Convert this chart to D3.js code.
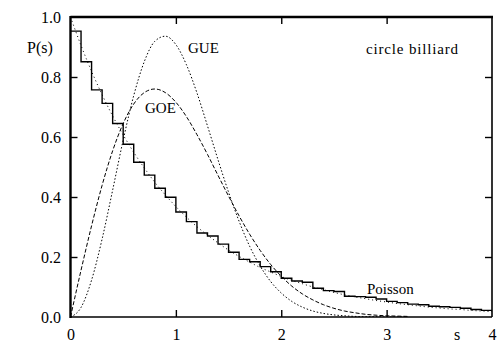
<!DOCTYPE html>
<html>
<head>
<meta charset="utf-8">
<script src="https://cdn.jsdelivr.net/npm/d3@7"></script>
<style>
  html, body { margin: 0; padding: 0; background: #fff; }
  svg { display: block; }
</style>
</head>
<body>
<svg id="chart" width="504" height="360"></svg>
<script>
// ---- data ----
const xTicks = [0, 1, 2, 3, 4];
const yTicks = [0, 0.2, 0.4, 0.6, 0.8, 1.0];
const yTickLabels = ["0.0", "0.2", "0.4", "0.6", "0.8", "1.0"];
const binWidth = 0.1;
// histogram heights, bins of width 0.1 from s = 0 to 4
const histValues = [0.953, 0.851, 0.757, 0.712, 0.645, 0.576, 0.516, 0.473, 0.429, 0.399,
                    0.350, 0.318, 0.280, 0.270, 0.243, 0.216, 0.192, 0.184, 0.168, 0.151,
                    0.129, 0.120, 0.116, 0.096, 0.088, 0.085, 0.069, 0.068, 0.066, 0.060,
                    0.052, 0.048, 0.043, 0.041, 0.036, 0.034, 0.032, 0.029, 0.025, 0.022];
// curve samples at s = 0, 0.1, 0.2, ...
const curveS = [0, 0.1, 0.2, 0.3, 0.4, 0.5, 0.6, 0.7, 0.8, 0.9, 1.0, 1.1, 1.2, 1.3, 1.4, 1.5, 1.6, 1.7, 1.8, 1.9,
                2.0, 2.1, 2.2, 2.3, 2.4, 2.5, 2.6, 2.7, 2.8, 2.9, 3.0, 3.1, 3.2, 3.3, 3.4, 3.5, 3.6, 3.7, 3.8, 3.9, 4.0];
const goeValues = [0, 0.156, 0.304, 0.439, 0.554, 0.645, 0.710, 0.748, 0.760, 0.748, 0.716, 0.668, 0.608, 0.542,
                   0.472, 0.403, 0.337, 0.276, 0.222, 0.175, 0.136, 0.103, 0.077, 0.057, 0.041, 0.029, 0.020,
                   0.014, 0.009, 0.006, 0.004, 0.003, 0.002];
const gueValues = [0, 0.032, 0.123, 0.260, 0.423, 0.590, 0.738, 0.851, 0.919, 0.936, 0.908, 0.841, 0.747, 0.637,
                   0.524, 0.416, 0.319, 0.236, 0.170, 0.118, 0.080, 0.052, 0.033, 0.020, 0.012, 0.007, 0.004,
                   0.002, 0.001, 0.001, 0.000, 0.000, 0.000];
const poissonValues = [1.000, 0.905, 0.819, 0.741, 0.670, 0.607, 0.549, 0.497, 0.449, 0.407, 0.368, 0.333, 0.301,
                       0.273, 0.247, 0.223, 0.202, 0.183, 0.165, 0.150, 0.135, 0.122, 0.111, 0.100, 0.091, 0.082,
                       0.074, 0.067, 0.061, 0.055, 0.050, 0.045, 0.041, 0.037, 0.033, 0.030, 0.027, 0.025, 0.022,
                       0.020, 0.018];

// ---- layout ----
const FONT = "'Liberation Serif', 'Times New Roman', Times, 'DejaVu Serif', serif";
const svg = d3.select("#chart").attr("font-family", FONT);
const x = d3.scaleLinear().domain([0, 4]).range([70.5, 492]);
const y = d3.scaleLinear().domain([0, 1]).range([317, 17]);

const defs = svg.append("defs");
defs.append("clipPath").attr("id", "plotclip")
  .append("rect").attr("x", x(0)).attr("y", y(1)).attr("width", x(4) - x(0)).attr("height", y(0) - y(1));

const plot = svg.append("g").attr("clip-path", "url(#plotclip)");

function series(vals) { return vals.map((v, i) => [curveS[i], v]); }
const line = d3.line().x(d => x(d[0])).y(d => y(d[1])).curve(d3.curveMonotoneX);

plot.append("path").datum(series(poissonValues))
  .attr("d", line).attr("fill", "none").attr("stroke", "#000")
  .attr("stroke-width", 1).attr("stroke-dasharray", "1,3");
plot.append("path").datum(series(goeValues))
  .attr("d", line).attr("fill", "none").attr("stroke", "#000")
  .attr("stroke-width", 1).attr("stroke-dasharray", "4,2");
plot.append("path").datum(series(gueValues))
  .attr("d", line).attr("fill", "none").attr("stroke", "#000")
  .attr("stroke-width", 1).attr("stroke-dasharray", "1.5,2");

// histogram as a step line
const histPts = histValues.map((v, i) => [i * binWidth, v]);
histPts.push([histValues.length * binWidth, histValues[histValues.length - 1]]);
plot.append("path").datum(histPts)
  .attr("d", d3.line().x(d => x(d[0])).y(d => y(d[1])).curve(d3.curveStepAfter))
  .attr("fill", "none").attr("stroke", "#000").attr("stroke-width", 1.4);

// ---- frame ----
svg.append("line").attr("x1", x(0)).attr("x2", x(4)).attr("y1", y(0)).attr("y2", y(0))
  .attr("stroke", "#000").attr("stroke-width", 1.6);
svg.append("line").attr("x1", x(4)).attr("x2", x(4)).attr("y1", y(0)).attr("y2", y(1))
  .attr("stroke", "#000").attr("stroke-width", 1.6);
svg.append("line").attr("x1", x(0)).attr("x2", x(4) + 1).attr("y1", y(1)).attr("y2", y(1))
  .attr("stroke", "#000").attr("stroke-width", 2.4);
svg.append("line").attr("x1", x(0)).attr("x2", x(0)).attr("y1", y(0) + 1).attr("y2", y(1) - 1)
  .attr("stroke", "#000").attr("stroke-width", 2.4);

// ---- tick marks (inward) ----
const innerY = yTicks.filter(v => v > 0 && v < 1);
const innerX = xTicks.filter(v => v > 0 && v < 4);
function styleTicks(g) {
  g.select(".domain").remove();
  g.selectAll(".tick line").attr("stroke", "#000").attr("stroke-width", 1.4);
  g.selectAll(".tick text").remove();
}
svg.append("g").attr("transform", `translate(${x(0)},0)`)
  .call(d3.axisLeft(y).tickValues(innerY).tickSize(-7)).call(styleTicks);
svg.append("g").attr("transform", `translate(${x(4)},0)`)
  .call(d3.axisRight(y).tickValues(innerY).tickSize(-7)).call(styleTicks);
svg.append("g").attr("transform", `translate(0,${y(0)})`)
  .call(d3.axisBottom(x).tickValues(innerX).tickSize(-7)).call(styleTicks);
svg.append("g").attr("transform", `translate(0,${y(1)})`)
  .call(d3.axisTop(x).tickValues(innerX).tickSize(-7)).call(styleTicks);

// ---- tick labels ----
const yAx = svg.append("g").attr("transform", `translate(61,0)`)
  .call(d3.axisLeft(y).tickValues(yTicks).tickSize(0).tickPadding(0)
        .tickFormat((d, i) => yTickLabels[i]));
yAx.attr("font-family", FONT).attr("font-size", 16);
yAx.select(".domain").remove();
yAx.selectAll(".tick text").attr("fill", "#000").attr("dy", "0.34em");

const xAx = svg.append("g").attr("transform", `translate(0,${y(0)})`)
  .call(d3.axisBottom(x).tickValues(xTicks).tickSize(0).tickPadding(0).tickFormat(d3.format("d")));
xAx.attr("font-family", FONT).attr("font-size", 16);
xAx.select(".domain").remove();
xAx.selectAll(".tick text").attr("fill", "#000").attr("y", 23).attr("dy", 0);

// ---- labels ----
function label(xp, yp, size, txt) {
  return svg.append("text").attr("x", xp).attr("y", yp)
    .attr("font-family", FONT).attr("font-size", size).attr("fill", "#000").text(txt);
}
label(457, 340, 16, "s").attr("text-anchor", "middle");
label(27, 53, 16, "P(s)");
label(188, 53, 15, "GUE");
label(145, 113, 15, "GOE");
label(367, 294, 15, "Poisson");
label(366, 54, 15, "circle billiard").attr("textLength", 92).attr("lengthAdjust", "spacing");
</script>
</body>
</html>
